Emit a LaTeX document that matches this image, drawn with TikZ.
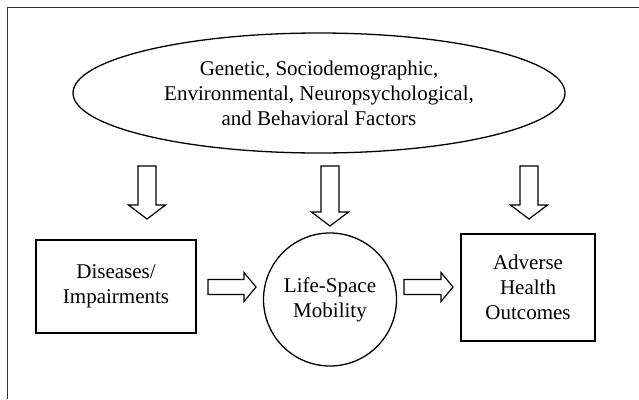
\documentclass[tikz,border=0pt]{standalone}
\usepackage{fontspec}
\setmainfont{Liberation Serif}
\usetikzlibrary{shapes.geometric,calc}

% hollow block arrow: start, end, shaft half width, head half width, head length
\newcommand{\blockarrow}[5]{%
  \coordinate (hb) at ($(#2)!#5!(#1)$);
  \draw[arrowline] ($(#1)!#3!90:(#2)$) -- ($(hb)!#3!90:(#2)$) -- ($(hb)!#4!90:(#2)$)
    -- (#2) -- ($(hb)!#4!-90:(#2)$) -- ($(hb)!#3!-90:(#2)$) -- ($(#1)!#3!-90:(#2)$) -- cycle;
}

\tikzset{
  boxnode/.style={draw, line width=1.3pt, align=center, font=\fontsize{21}{25}\selectfont},
  arrowline/.style={line width=1.2pt, line join=miter},
}

\begin{document}
\begin{tikzpicture}[x=1pt, y=-1pt]
\useasboundingbox (0,0) rectangle (639,399);
% frame
\draw[line width=1pt, black!80] (7,399) -- (7,7) -- (639,7);

\node[boxnode, ellipse, minimum width=492pt, minimum height=120pt, inner sep=0pt] (factors) at (319,93)
  {Genetic, Sociodemographic,\\Environmental, Neuropsychological,\\and Behavioral Factors};
\node[boxnode, rectangle, minimum width=160pt, minimum height=93pt] (disease) at (116,286.5)
  {Diseases/\\Impairments};
\node[boxnode, circle, minimum size=133pt, inner sep=0pt] (mobility) at (330,299.5)
  {Life-Space\\Mobility};
\node[boxnode, rectangle, minimum width=134pt, minimum height=107pt] (outcome) at (528,287.5)
  {Adverse\\Health\\Outcomes};

% arrow ends
\coordinate (d1s) at (147,166);
\coordinate (d1e) at (147,219);
\coordinate (d2s) at (330,166);
\coordinate (d2e) at (330,226);
\coordinate (d3s) at (529,166);
\coordinate (d3e) at (529,219);
\coordinate (r1s) at (208,287);
\coordinate (r1e) at (256,287);
\coordinate (r2s) at (404,287);
\coordinate (r2e) at (453,287);

\blockarrow{d1s}{d1e}{9pt}{18.5pt}{14pt}
\blockarrow{d2s}{d2e}{9pt}{18.5pt}{14pt}
\blockarrow{d3s}{d3e}{9pt}{18.5pt}{14pt}
\blockarrow{r1s}{r1e}{7.5pt}{14.5pt}{12pt}
\blockarrow{r2s}{r2e}{7.5pt}{14.5pt}{12pt}
\end{tikzpicture}
\end{document}
